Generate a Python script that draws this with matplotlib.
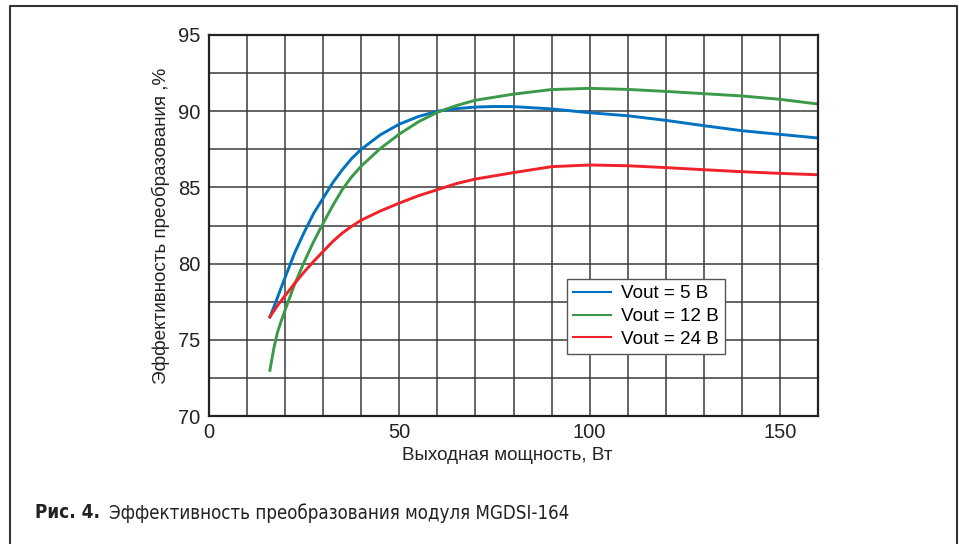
import matplotlib
matplotlib.use("Agg")
import matplotlib.pyplot as plt
from matplotlib.lines import Line2D

# данные
p_5v = [16, 17.5, 20, 22.5, 25, 27.5, 30, 32.5, 35, 37.5, 40, 45, 50, 55, 60, 65, 70, 75, 80,
        90, 100, 110, 120, 130, 140, 150, 160]
eff_5v = [76.5, 77.45, 79.1, 80.7, 82.05, 83.3, 84.3, 85.3, 86.15, 86.9, 87.5, 88.45, 89.15, 89.65,
          90.0, 90.17, 90.27, 90.31, 90.3, 90.15, 89.9, 89.7, 89.4, 89.05, 88.72, 88.48, 88.24]

p_12v = [16, 17, 18, 19, 20, 22.5, 25, 27.5, 30, 32.5, 35, 37.5, 40, 45, 50, 55, 60, 65, 70, 80,
         90, 100, 110, 120, 130, 140, 150, 160]
eff_12v = [73.0, 74.4, 75.5, 76.25, 76.95, 78.65, 80.1, 81.45, 82.65, 83.8, 84.85, 85.7, 86.4, 87.55,
           88.5, 89.3, 89.93, 90.37, 90.72, 91.12, 91.42, 91.5, 91.43, 91.3, 91.15, 91.0, 90.78, 90.47]

p_24v = [16, 18, 20, 22.5, 25, 27.5, 30, 32.5, 35, 37.5, 40, 45, 50, 55, 60, 65, 70, 80, 90, 100,
         110, 120, 130, 140, 150, 160]
eff_24v = [76.5, 77.25, 77.9, 78.7, 79.45, 80.15, 80.8, 81.45, 82.0, 82.45, 82.85, 83.45, 83.97,
           84.45, 84.85, 85.25, 85.55, 85.97, 86.36, 86.47, 86.42, 86.3, 86.16, 86.03, 85.92, 85.83]

labels = ["Vout = 5 В", "Vout = 12 В", "Vout = 24 В"]
colors = ["#0072c1", "#3b9a4a", "#ee2228"]

plt.rcParams['font.family'] = ['Liberation Sans', 'DejaVu Sans']

fig = plt.figure(figsize=(9.59, 5.44), dpi=100)
ax = fig.add_axes([209/959, 128/544, 609/959, 381/544])

ax.plot(p_5v, eff_5v, color=colors[0], lw=2.1, label=labels[0])
ax.plot(p_12v, eff_12v, color=colors[1], lw=2.1, label=labels[1])
ax.plot(p_24v, eff_24v, color=colors[2], lw=2.1, label=labels[2])

ax.set_xlim(0, 160)
ax.set_ylim(70, 95)
ax.set_xticks([0, 50, 100, 150])
ax.set_yticks([70, 75, 80, 85, 90, 95])
ax.set_xticks(range(0, 161, 10), minor=True)
ax.set_yticks([70 + 2.5*i for i in range(11)], minor=True)
ax.grid(True, which='both', color='#3a3a3a', lw=1.1)
ax.set_axisbelow(True)
ax.tick_params(which='both', length=0, labelsize=14.5, colors='#222222')
ax.tick_params(axis='y', pad=6)
ax.tick_params(axis='x', pad=5)
for s in ax.spines.values():
    s.set_linewidth(1.6)
    s.set_color('#222222')

ax.set_xlabel("Выходная мощность, Вт", fontsize=13.6, color='#222222')
ax.xaxis.set_label_coords(0.49, -0.082)
ax.set_ylabel("Эффективность преобразования ,%", fontsize=13.6, color='#222222', labelpad=6)

leg = ax.legend(loc='upper left', bbox_to_anchor=(0.588, 0.36), borderaxespad=0,
                fontsize=13.6, fancybox=False, framealpha=1, edgecolor='#555555',
                handlelength=2.0, labelspacing=0.3, borderpad=0.33, handletextpad=0.55)
leg.get_frame().set_linewidth(1.0)
for h in leg.get_lines():
    h.set_linewidth(1.5)

# рамка вокруг рисунка (снизу открыта)
fx = [10/959, 10/959, 957/959, 957/959]
fy = [0, 1 - 6/544, 1 - 6/544, 0]
fig.add_artist(Line2D(fx, fy, color='#333333', lw=1.5, transform=fig.transFigure))

fig.text(35/959, 1 - 513/544, "Рис. 4.", fontsize=13.6, fontweight='bold', va='center',
         family=['DejaVu Sans'], stretch='condensed', color='#222222')
fig.text(109/959, 1 - 513/544, "Эффективность преобразования модуля MGDSI‑164", fontsize=13.4,
         va='center', family=['DejaVu Sans'], stretch='condensed', color='#222222')

fig.savefig("out.png", dpi=100)
